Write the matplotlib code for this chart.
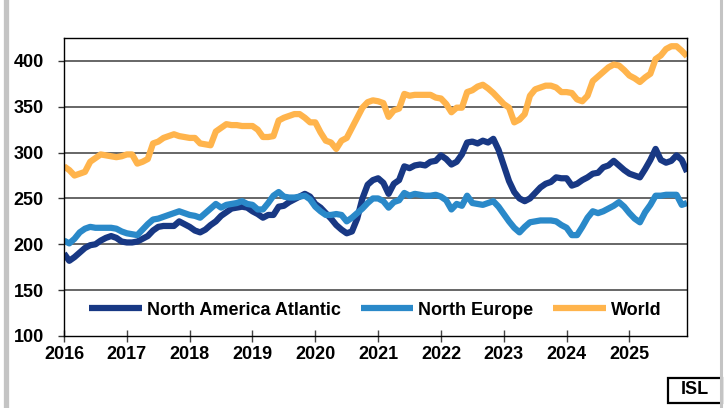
import matplotlib.pyplot as plt
import numpy as np
from matplotlib.lines import Line2D
from matplotlib.patches import Rectangle

plt.rcParams['font.family'] = ['Liberation Sans', 'DejaVu Sans']
plt.rcParams['font.weight'] = 'bold'

# monthly index values, Jan 2016 - Dec 2025
north_america_atlantic = [
    190, 182, 186, 191, 196, 199, 200, 204, 207, 209, 207, 203,
    202, 202, 203, 206, 209, 215, 219, 220, 220, 220, 225, 222,
    219, 215, 213, 216, 221, 225, 231, 235, 239, 240, 241, 240,
    236, 233, 229, 232, 232, 241, 242, 246, 249, 252, 255, 252,
    244, 240, 234, 228, 221, 216, 212, 214, 228, 250, 265, 270,
    272, 267, 255, 266, 270, 285, 283, 286, 287, 286, 290, 291,
    297, 293, 287, 290, 298, 311, 312, 310, 313, 311, 315, 303,
    286, 269, 257, 250, 247, 250, 256, 262, 266, 268, 273, 272,
    272, 264, 266, 270, 273, 277, 278, 284, 286, 291, 286, 281,
    277, 275, 273, 282, 292, 304, 292, 289, 291, 297, 292, 279,
]
north_europe = [
    204, 201, 206, 213, 217, 219, 218, 218, 218, 218, 217, 214,
    212, 211, 210, 216, 222, 227, 228, 230, 232, 234, 236, 234,
    232, 231, 229, 234, 239, 244, 240, 243, 244, 245, 247, 244,
    243, 238, 238, 245, 253, 257, 252, 251, 251, 252, 253, 249,
    241, 236, 232, 232, 233, 232, 225, 229, 234, 239, 245, 250,
    250, 247, 240, 246, 248, 256, 253, 255, 254, 253, 253, 254,
    252, 248, 238, 244, 242, 253, 245, 244, 243, 245, 247, 241,
    233, 225, 218, 213, 219, 224, 225, 226, 226, 226, 225, 221,
    218, 210, 210, 219, 229, 236, 234, 236, 239, 242, 246, 241,
    234, 228, 224, 235, 243, 253, 253, 254, 254, 254, 243, 245,
]
world = [
    285, 281, 275, 277, 279, 290, 294, 298, 297, 296, 295, 296,
    298, 298, 288, 290, 293, 310, 312, 316, 318, 320, 318, 317,
    316, 316, 310, 309, 308, 323, 327, 331, 330, 330, 329, 329,
    329, 325, 317, 317, 318, 335, 338, 340, 342, 342, 338, 333,
    333, 322, 313, 311, 304, 313, 316, 327, 338, 349, 355, 357,
    356, 354, 339, 346, 348, 364, 362, 363, 363, 363, 363, 360,
    359, 353, 344, 349, 349, 366, 368, 372, 374, 370, 365, 359,
    353, 349, 333, 336, 342, 362, 369, 371, 373, 373, 371, 366,
    366, 365, 358, 356, 362, 378, 383, 388, 393, 396, 395, 390,
    384, 381, 377, 382, 386, 402, 406, 413, 416, 416, 411, 405,
]
years = list(range(2016, 2026))
y_ticks = [100, 150, 200, 250, 300, 350, 400]

meses = 2016 + np.arange(len(world)) / 12

fig = plt.figure(figsize=(7.25, 4.08), dpi=100)
ax = fig.add_axes([0.0883, 0.1765, 0.8593, 0.7304])

ax.plot(meses, north_america_atlantic, color='#183884', lw=4.5,
        solid_joinstyle='round', solid_capstyle='butt', label='North America Atlantic')
ax.plot(meses, north_europe, color='#2A89C9', lw=4.5,
        solid_joinstyle='round', solid_capstyle='butt', label='North Europe')
ax.plot(meses, world, color='#FFB44C', lw=4.5,
        solid_joinstyle='round', solid_capstyle='butt', label='World')

ax.set_xlim(2016, 2016 + (len(world) - 1) / 12)
ax.set_ylim(100, 425)
ax.set_xticks(years)
ax.set_yticks(y_ticks)
for v in y_ticks[1:]:
    ax.axhline(v, color='#5a5a5a', lw=1.3, zorder=0)

ax.tick_params(axis='y', direction='out', length=4.5, width=1, color='#333333',
               pad=10, labelsize=13)
ax.tick_params(axis='x', direction='inout', length=9, width=1, color='#444444',
               pad=3, labelsize=13)
for s in ax.spines.values():
    s.set_color('black')
    s.set_linewidth(1)

leg = ax.legend(loc='center', bbox_to_anchor=(0.5, 0.087), ncol=3, frameon=False,
                fontsize=13, handlelength=2.9, handletextpad=0.3, columnspacing=1.1,
                borderpad=0)

# marco gris de la diapositiva
fig.add_artist(Line2D([5.5 / 725, 5.5 / 725], [0, 1], color='#c4c4c4', lw=3.8))
fig.add_artist(Line2D([721 / 725, 721 / 725], [0, 1], color='#c4c4c4', lw=2.2))

# caja ISL
fig.add_artist(Rectangle((668 / 725, 1 - 403 / 408), 54 / 725, 25 / 408,
                         transform=fig.transFigure, facecolor='white',
                         edgecolor='black', lw=1.6))
fig.text(695 / 725, 1 - 390 / 408, 'ISL', ha='center', va='center', fontsize=13,
         fontweight='bold')

fig.savefig('out.png', dpi=100)
